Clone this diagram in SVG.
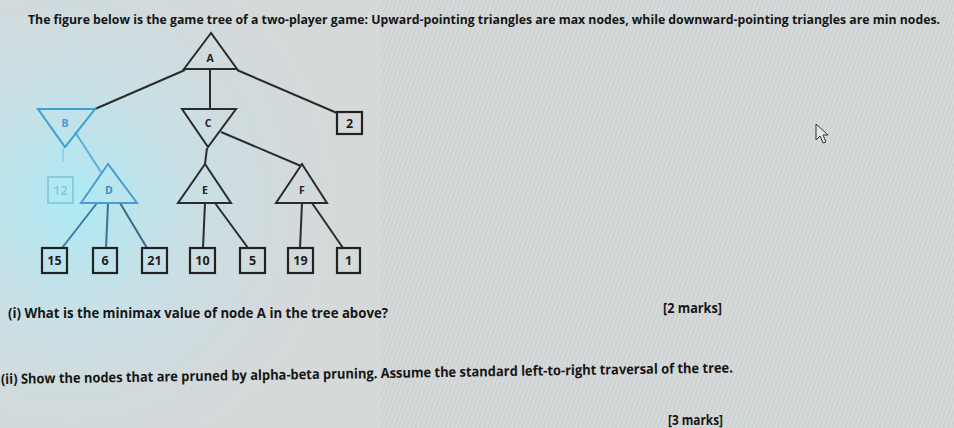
<svg xmlns="http://www.w3.org/2000/svg" width="954" height="428" viewBox="0 0 954 428">
<defs>
<radialGradient id="glow" cx="70" cy="200" r="300" gradientUnits="userSpaceOnUse">
<stop offset="0" stop-color="#a8ecf7" stop-opacity="0.9"/>
<stop offset="0.45" stop-color="#c0e4ee" stop-opacity="0.5"/>
<stop offset="1" stop-color="#d4d8da" stop-opacity="0"/>
</radialGradient>
<pattern id="moire" width="4" height="4" patternUnits="userSpaceOnUse" patternTransform="rotate(20)">
<rect width="4" height="4" fill="#d6dadb"/>
<rect width="1.3" height="4" fill="#c3c8c9"/>
</pattern>
<style>
.t{font-family:"Open Sans","Liberation Sans",sans-serif;font-weight:700;fill:#161616}
.lbl{font-family:"Open Sans","Liberation Sans",sans-serif;font-weight:700;font-size:10.5px;text-anchor:middle;fill:#222}
.num{font-family:"Open Sans","Liberation Sans",sans-serif;font-weight:700;font-size:12.5px;text-anchor:middle;fill:#1e1e1e}
.edge{stroke:#2b2b2b;stroke-width:2;fill:none}
.shape{stroke:#2b2b2b;stroke-width:2;fill:none}
.box{stroke:#222;stroke-width:2.2;fill:none}
</style>
</defs>
<rect width="954" height="428" fill="#d5d9da"/>
<rect x="380" width="574" height="428" fill="url(#moire)" opacity="0.6"/>
<rect width="954" height="428" fill="url(#glow)"/>

<text class="t" x="28" y="0" font-size="11.5" textLength="912" lengthAdjust="spacingAndGlyphs" transform="translate(0 24) scale(1 1.12)">The figure below is the game tree of  a two-player game: Upward-pointing triangles are max nodes, while downward-pointing triangles are min nodes.</text>

<g id="connectors">
<line class="edge" x1="185" y1="70" x2="95" y2="109"/>
<line class="edge" x1="210" y1="70" x2="210" y2="109"/>
<line class="edge" x1="237" y1="70" x2="337" y2="113"/>
<line class="edge" x1="75" y1="132" x2="101" y2="172" style="stroke:#5aaed8"/>
<line class="edge" x1="63" y1="148" x2="63" y2="162" style="stroke:#86cce6;stroke-width:1.5"/>
<line class="edge" x1="207" y1="148" x2="205" y2="164"/>
<line class="edge" x1="221" y1="132" x2="301" y2="166"/>
<line class="edge" x1="97" y1="203" x2="62" y2="248" style="stroke:#3a7ca8"/>
<line class="edge" x1="108" y1="203" x2="106" y2="248" style="stroke:#3a7298"/>
<line class="edge" x1="120" y1="203" x2="147" y2="248" style="stroke:#3a6a8e"/>
<line class="edge" x1="205" y1="203" x2="203" y2="248"/>
<line class="edge" x1="215" y1="203" x2="248" y2="248"/>
<line class="edge" x1="302" y1="203" x2="300" y2="248"/>
<line class="edge" x1="312" y1="203" x2="343" y2="248"/>
</g>

<g id="node-A"><polygon class="shape" points="211,33 184,69 237,69"/><text class="lbl" x="210" y="62">A</text></g>
<g id="node-B"><polygon class="shape" points="38,109 95,109 65,147" style="stroke:#3d9fd0"/><text class="lbl" x="65" y="127" style="fill:#4a9ad0">B</text></g>
<g id="node-C"><polygon class="shape" points="182,109 236,109 208,147"/><text class="lbl" x="208" y="127">C</text></g>
<g id="leaf-2"><rect class="box" x="337" y="112" width="25" height="22"/><text class="num" x="349.5" y="128">2</text></g>
<g id="leaf-12"><rect class="box" x="48" y="177" width="25" height="26" style="stroke:#7cc6e2;stroke-width:1.6"/><text class="num" x="60.5" y="195" style="fill:#7cc6e2;font-weight:600">12</text></g>
<g id="node-D"><polygon class="shape" points="108,164 81,203 137,203" style="stroke:#4a9cd0"/><text class="lbl" x="109" y="194" style="fill:#3a8cc8">D</text></g>
<g id="node-E"><polygon class="shape" points="205,164 178,203 231,203"/><text class="lbl" x="205" y="194">E</text></g>
<g id="node-F"><polygon class="shape" points="302,164 276,203 327,203"/><text class="lbl" x="302" y="194">F</text></g>
<g id="leaf-15"><rect class="box" x="42" y="248" width="25" height="25"/><text class="num" x="54.5" y="265">15</text></g>
<g id="leaf-6"><rect class="box" x="93" y="248" width="24" height="25"/><text class="num" x="105" y="265">6</text></g>
<g id="leaf-21"><rect class="box" x="142" y="248" width="25" height="25"/><text class="num" x="154.5" y="265">21</text></g>
<g id="leaf-10"><rect class="box" x="190" y="248" width="25" height="25"/><text class="num" x="202.5" y="265">10</text></g>
<g id="leaf-5"><rect class="box" x="240" y="248" width="25" height="25"/><text class="num" x="252.5" y="265">5</text></g>
<g id="leaf-19"><rect class="box" x="288" y="248" width="25" height="25"/><text class="num" x="300.5" y="265">19</text></g>
<g id="leaf-1"><rect class="box" x="337" y="248" width="23" height="25"/><text class="num" x="348.5" y="265">1</text></g>

<polygon points="816,124 816,140 820,136 823,143 826,142 823,135 828,135" fill="#e4e6e6" stroke="#333" stroke-width="1"/>

<text class="t" x="8" y="318" font-size="14" textLength="380" lengthAdjust="spacingAndGlyphs">(i) What is the minimax value of node A in the tree above?</text>
<text class="t" x="663" y="313" font-size="13.5" textLength="59" lengthAdjust="spacingAndGlyphs">[2 marks]</text>
<text class="t" x="1" y="384" font-size="14" textLength="732" lengthAdjust="spacingAndGlyphs" transform="rotate(-0.9 1 384)">(ii) Show the nodes that are pruned by alpha-beta pruning. Assume the standard left-to-right traversal of the tree.</text>
<text class="t" x="668" y="425" font-size="13.5" textLength="55" lengthAdjust="spacingAndGlyphs">[3 marks]</text>
</svg>
